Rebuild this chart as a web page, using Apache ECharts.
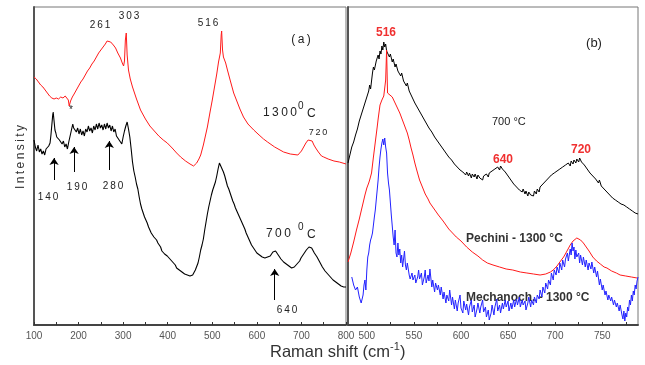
<!DOCTYPE html>
<html>
<head>
<meta charset="utf-8">
<script src="https://cdn.jsdelivr.net/npm/echarts@6/dist/echarts.min.js"></script>
<style>
html, body { margin: 0; padding: 0; background: #fff; }
#chart { width: 645px; height: 365px; }
</style>
</head>
<body>
<div id="chart"></div>
<script>
// panel (a): Raman shift (cm-1) vs intensity (arb. units)
var redA = [[100,248],[105,246],[110,243],[115,240],[120,238],[125,235],[130,232],[135,229],[140,227],[145,226],[150,227],[155,226],[160,228],[165,227],[170,229],[174,228],[177,225],[179,219],[182,224],[186,228],[190,231],[195,235],[200,239],[205,243],[210,246],[215,250],[220,254],[225,257],[230,261],[235,264],[240,268],[245,272],[250,275],[255,278],[260,281],[264,284],[268,282],[272,283],[278,280],[283,277],[288,272],[294,267],[298,262],[301,259],[303,264],[305,285],[307,292],[309,270],[312,255],[316,246],[321,238],[330,226],[339,215],[350,206],[360,199],[368,195],[380,189],[390,185],[399,182],[410,177],[420,172],[429,168],[440,164],[450,161],[458,159],[465,162],[470,166],[474,170],[480,180],[485,190],[489,198],[495,213],[500,225],[505,238],[510,251],[514,263],[518,272],[520,290],[521,294],[523,275],[525,268],[530,262],[534,255],[540,245],[548,232],[555,224],[562,216],[570,208],[580,201],[593,195],[605,190],[615,186],[624,183],[640,178],[660,173],[675,171],[692,170],[700,174],[705,178],[710,182],[715,185],[719,187],[724,184],[728,180],[732,177],[738,173],[745,169],[750,168],[760,166],[773,164],[785,163],[800,161]];

var blackA = [[100,185],[103,178],[106,174],[109,180],[112,173],[115,176],[118,171],[121,174],[124,170],[127,176],[130,174],[133,179],[136,182],[138,190],[140,200],[142,210],[143,213],[145,204],[147,195],[149,192],[151,188],[154,190],[157,185],[160,186],[163,181],[166,184],[169,178],[172,181],[175,176],[178,183],[181,189],[184,195],[187,201],[189,197],[192,199],[195,193],[198,197],[201,191],[204,196],[207,190],[210,194],[213,189],[216,196],[219,193],[222,199],[225,194],[228,197],[231,192],[234,199],[237,195],[240,201],[243,196],[246,202],[249,197],[252,200],[255,195],[258,201],[261,196],[264,202],[267,197],[270,200],[273,194],[276,199],[279,193],[282,196],[285,189],[288,191],[291,185],[294,184],[297,181],[300,188],[303,194],[306,199],[309,203],[312,196],[315,188],[318,176],[321,163],[324,154],[327,148],[330,141],[333,136],[336,128],[339,121],[342,116],[345,112],[348,108],[351,105],[354,102],[357,98],[360,96],[363,92],[366,90],[369,88],[372,86],[375,85],[378,82],[381,80],[384,78],[387,74],[390,73],[393,71],[396,72],[399,69],[402,68],[405,66],[408,64],[411,63],[414,61],[417,60],[420,57],[423,58],[426,55],[429,56],[432,53],[435,54],[438,51],[441,52],[444,50],[447,52],[450,49],[453,51],[456,50],[459,52],[462,55],[465,57],[468,62],[471,68],[474,75],[477,80],[480,86],[483,95],[486,103],[489,111],[492,118],[495,124],[498,130],[501,135],[504,139],[507,143],[510,149],[513,156],[516,162],[519,159],[522,157],[525,153],[528,149],[531,144],[534,139],[537,136],[540,132],[543,128],[546,124],[549,121],[552,117],[555,115],[558,111],[561,108],[564,105],[567,103],[570,99],[573,96],[576,92],[579,89],[582,86],[585,84],[588,80],[591,78],[594,76],[597,74],[600,72],[603,71],[606,70],[609,69],[612,68],[615,68],[618,67],[621,66],[624,68],[627,67],[630,69],[633,71],[636,73],[639,75],[642,74],[645,72],[648,70],[651,68],[654,66],[657,65],[660,63],[663,62],[666,61],[669,60],[672,59],[675,58],[678,57],[681,57],[684,58],[687,59],[690,61],[693,63],[696,64],[699,67],[702,68],[705,71],[708,73],[711,75],[714,77],[717,78],[720,79],[723,77],[726,75],[729,72],[732,70],[735,68],[738,66],[741,63],[744,61],[747,58],[750,56],[753,54],[756,52],[759,51],[762,49],[765,48],[768,47],[771,45],[774,44],[777,43],[780,42],[783,41],[786,40],[789,39],[792,39],[795,38],[800,38]];

// arrows in panel (a): [x, from, to]
var arrowsA = [[145,145,167],[190,153,178],[269,155,184],[640,25,56]];

// panel (b)
var blackB = [[480,162],[482,170],[484,178],[486,183],[488,190],[490,196],[492,204],[494,210],[496,216],[498,222],[500,228],[502,234],[503,240],[504,236],[506,252],[507,258],[508,255],[510,264],[511,262],[512,270],[513,266],[514,274],[515,271],[516,279],[517,275],[518,283],[519,278],[520,281],[521,274],[522,276],[524,268],[525,271],[527,263],[528,266],[530,258],[531,261],[533,254],[534,256],[536,249],[537,252],[539,244],[540,246],[542,239],[543,242],[545,234],[546,236],[548,228],[549,230],[551,222],[552,224],[554,217],[555,219],[557,212],[558,214],[560,207],[561,209],[563,202],[564,204],[566,197],[567,199],[569,193],[570,194],[572,188],[573,190],[575,184],[576,186],[578,180],[579,181],[581,176],[582,178],[584,172],[585,174],[587,168],[588,170],[590,165],[591,166],[593,161],[594,163],[596,158],[597,160],[599,155],[600,157],[602,153],[603,155],[605,150],[606,153],[608,149],[609,152],[611,147],[612,151],[614,148],[615,151],[617,146],[618,150],[620,147],[621,149],[623,145],[624,149],[626,147],[627,151],[629,148],[630,152],[632,150],[633,154],[635,152],[636,156],[638,154],[639,158],[641,155],[642,159],[644,156],[645,158],[647,153],[648,155],[650,149],[651,151],[653,145],[654,147],[656,141],[657,143],[659,138],[660,140],[662,135],[663,137],[665,133],[666,136],[668,131],[669,134],[671,129],[672,133],[674,130],[675,132],[677,129],[678,134],[680,131],[681,136],[683,133],[684,138],[686,136],[687,141],[689,139],[690,144],[692,142],[693,147],[695,145],[696,150],[698,148],[699,152],[701,150],[702,154],[704,152],[705,156],[707,154],[708,158],[710,156],[711,160],[713,158],[714,162],[716,159],[717,164],[719,161],[720,165],[722,162],[723,166],[725,163],[726,167],[728,163],[729,165],[731,160],[732,162],[734,156],[735,158],[737,152],[738,154],[740,149],[741,151],[743,146],[744,148],[746,142],[747,145],[749,139],[750,141],[752,136],[753,138],[755,133],[756,135],[758,130],[759,132],[761,127],[762,129],[764,125],[765,127],[767,123],[768,125],[770,121],[771,123],[773,120],[774,122],[776,118],[777,120],[779,116],[780,118],[782,114],[783,116],[785,112],[786,114],[788,111]];

var redB = [[480,63],[483,72],[486,83],[489,95],[492,106],[494,114],[496,122],[498,130],[500,137],[502,142],[503,145],[505,152],[507,168],[509,183],[511,198],[512,206],[513,213],[514,220],[516,225],[518,229],[519,230],[520,245],[521,275],[522,232],[524,230],[527,228],[529,224],[531,220],[533,216],[535,212],[537,207],[539,202],[541,197],[543,192],[545,185],[547,177],[549,170],[551,162],[553,155],[556,145],[559,138],[562,131],[565,126],[567,122],[570,118],[573,114],[576,110],[578,108],[581,104],[584,100],[587,96],[591,92],[595,88],[600,84],[606,78],[612,73],[618,69],[623,65],[628,62],[634,60],[641,58],[648,56],[655,55],[663,53],[670,52],[677,51],[684,50],[690,51],[695,53],[698,55],[702,59],[705,63],[709,68],[712,73],[716,80],[719,84],[721,86],[723,87],[725,86],[727,85],[730,82],[733,78],[736,74],[740,68],[744,64],[748,61],[752,58],[755,57],[760,54],[765,52],[769,50],[775,49],[781,48],[787,47]];

var blueB = [[484,48],[486,40],[488,35],[490,38],[492,28],[494,22],[496,30],[497,40],[498,45],[499,35],[500,55],[501,68],[502,72],[503,80],[504,85],[505,88],[506,92],[507,100],[508,108],[509,115],[510,125],[511,135],[512,145],[513,158],[514,168],[515,176],[516,182],[517,186],[518,180],[519,187],[520,178],[521,172],[522,152],[523,142],[524,135],[526,110],[528,88],[529,80],[530,95],[531,72],[532,68],[533,82],[534,70],[535,76],[536,62],[537,70],[538,58],[539,66],[540,74],[541,60],[542,55],[543,62],[545,50],[546,46],[548,52],[549,45],[551,50],[552,42],[554,48],[555,55],[556,46],[558,52],[559,40],[561,48],[562,55],[563,42],[565,50],[566,44],[567,56],[569,38],[570,45],[572,33],[573,42],[575,35],[576,40],[578,30],[579,38],[581,26],[582,33],[584,22],[585,30],[587,24],[588,35],[590,20],[591,28],[593,16],[594,25],[596,14],[597,22],[599,30],[600,17],[602,12],[603,24],[605,15],[606,21],[608,10],[609,18],[611,25],[612,13],[614,20],[615,8],[617,16],[618,22],[620,12],[621,18],[623,25],[624,13],[626,18],[627,8],[629,15],[630,5],[632,12],[633,20],[635,10],[636,18],[638,26],[639,14],[641,20],[642,12],[644,22],[645,16],[647,25],[648,18],[650,24],[651,14],[653,22],[654,16],[656,25],[657,18],[659,26],[660,20],[662,28],[663,18],[665,25],[666,20],[668,24],[669,15],[671,22],[672,28],[674,18],[675,25],[677,20],[678,28],[680,22],[681,30],[683,26],[684,35],[686,28],[687,38],[689,32],[690,42],[692,36],[693,45],[695,40],[696,52],[698,45],[699,55],[701,50],[702,58],[704,52],[705,62],[707,55],[708,65],[710,58],[711,66],[713,72],[714,64],[716,76],[717,70],[718,82],[719,74],[720,78],[721,66],[722,75],[723,68],[725,72],[726,62],[727,70],[729,60],[730,68],[732,58],[733,65],[735,55],[736,62],[738,56],[739,63],[741,52],[742,58],[744,48],[745,54],[747,40],[748,46],[750,35],[751,40],[753,30],[754,34],[756,25],[757,30],[759,24],[760,28],[762,20],[763,25],[765,18],[766,22],[768,14],[769,20],[771,10],[772,6],[773,14],[774,4],[775,12],[776,8],[777,18],[778,14],[779,25],[780,20],[781,30],[782,24],[783,34],[784,30],[785,40],[786,36],[787,44],[788,48]];

// tick positions
var ticksA = [100,150,200,250,300,350,400,450,500,550,600,650,700,750,800];
var labelsA = [100,200,300,400,500,600,700,800];
var ticksB = [500,525,550,575,600,625,650,675,700,725,750,775];
var labelsB = [500,550,600,650,700,750];

var FONT = '"Liberation Sans", Arial, sans-serif';

// letter-spaced text like the original figure
function sp(s) { return s.split('').join('\u2009'); }
function txt(x, y, s, size, color, weight, align) {
    return {
        type: 'text', x: x, y: y, silent: true,
        style: {
            text: s, fill: color || '#222',
            font: (weight || 'normal') + ' ' + size + 'px ' + FONT,
            align: align || 'center', verticalAlign: 'middle'
        }
    };
}

function xAxisCfg(idx, min, max, ticks, labels) {
    return {
        type: 'value', gridIndex: idx, min: min, max: max,
        axisLine: { show: true, onZero: false, lineStyle: { color: '#444', width: 2 } },
        axisTick: { show: true, inside: true, length: 3, customValues: ticks, lineStyle: { color: '#333' } },
        axisLabel: { customValues: labels, color: '#555', fontSize: 10, fontFamily: FONT, margin: 6 },
        splitLine: { show: false }
    };
}
function yAxisCfg(idx) {
    return {
        type: 'value', gridIndex: idx, min: 0, max: 318,
        axisLine: { show: true, onZero: false, lineStyle: { color: '#555', width: 2 } },
        axisTick: { show: false },
        axisLabel: { show: false },
        splitLine: { show: false }
    };
}

var arrowLines = arrowsA.map(function (a) {
    return [{ coord: [a[0], a[1]] }, { coord: [a[0], a[2]] }];
});

var option = {
    animation: false,
    backgroundColor: '#fff',
    grid: [
        { left: 34, top: 7, width: 312, height: 318, show: true, borderColor: '#777', borderWidth: 1 },
        { left: 348, top: 7, width: 290, height: 318, show: true, borderColor: '#777', borderWidth: 1 }
    ],
    xAxis: [
        xAxisCfg(0, 100, 800, ticksA, labelsA),
        xAxisCfg(1, 480, 788, ticksB, labelsB)
    ],
    yAxis: [yAxisCfg(0), yAxisCfg(1)],
    series: [
        {
            name: '1300 C', type: 'line', xAxisIndex: 0, yAxisIndex: 0,
            data: redA, showSymbol: false, silent: true,
            lineStyle: { color: '#ff1a1a', width: 1 }
        },
        {
            name: '700 C', type: 'line', xAxisIndex: 0, yAxisIndex: 0,
            data: blackA, showSymbol: false, silent: true,
            lineStyle: { color: '#000', width: 1.1 },
            markLine: {
                silent: true, symbol: ['none', 'arrow'], symbolSize: 7,
                label: { show: false },
                lineStyle: { color: '#000', width: 1, type: 'solid' },
                itemStyle: { color: '#000' },
                emphasis: { disabled: true },
                data: arrowLines
            }
        },
        {
            name: '700 C (b)', type: 'line', xAxisIndex: 1, yAxisIndex: 1,
            data: blackB, showSymbol: false, silent: true,
            lineStyle: { color: '#000', width: 1 }
        },
        {
            name: 'Pechini', type: 'line', xAxisIndex: 1, yAxisIndex: 1,
            data: redB, showSymbol: false, silent: true,
            lineStyle: { color: '#ff1a1a', width: 1 }
        },
        {
            name: 'Mechanoch', type: 'line', xAxisIndex: 1, yAxisIndex: 1,
            data: blueB, showSymbol: false, silent: true,
            lineStyle: { color: '#2222ff', width: 1 }
        }
    ],
    graphic: [
        // axis titles
        {
            type: 'text', x: 21, y: 157, rotation: Math.PI / 2, silent: true,
            style: { text: sp('Intensity'), fill: '#333', font: '12px ' + FONT, align: 'center', verticalAlign: 'middle' }
        },
        {
            type: 'text', x: 270, y: 351, silent: true,
            style: {
                text: '{a|Raman shift (cm}{b|-1}{a|)}',
                align: 'left', verticalAlign: 'middle',
                rich: {
                    a: { fontSize: 16.5, fontFamily: FONT, fill: '#333', lineHeight: 20, verticalAlign: 'bottom' },
                    b: { fontSize: 11, fontFamily: FONT, fill: '#333', lineHeight: 20, verticalAlign: 'top' }
                }
            }
        },
        // panel (a) labels
        txt(100, 25, sp('261'), 10),
        txt(129, 16, sp('303'), 10),
        txt(208, 23, sp('516'), 10),
        txt(71, 110, '*', 10),
        txt(301, 40, sp('(a)'), 12),
        txt(263, 113, sp('1300'), 12, '#222', 'normal', 'left'),
        txt(298, 106, '0', 10, '#222', 'normal', 'left'),
        txt(307, 114, 'C', 12, '#222', 'normal', 'left'),
        txt(318, 133, sp('720'), 9),
        txt(48, 197, sp('140'), 10),
        txt(77, 187, sp('190'), 10),
        txt(113, 186, sp('280'), 10),
        txt(266, 234, sp('700'), 12, '#222', 'normal', 'left'),
        txt(298, 227, '0', 10, '#222', 'normal', 'left'),
        txt(307, 235, 'C', 12, '#222', 'normal', 'left'),
        txt(287, 310, sp('640'), 10),
        // panel (b) labels
        txt(386, 33, '516', 12, '#f03030', 'bold'),
        txt(503, 160, '640', 12, '#f03030', 'bold'),
        txt(581, 150, '720', 12, '#f03030', 'bold'),
        txt(594, 43, '(b)', 13, '#222'),
        txt(492, 122, '700 \u00B0C', 11, '#222', 'normal', 'left'),
        txt(466, 239, 'Pechini - 1300 \u00B0C', 12, '#333', 'bold', 'left'),
        txt(466, 298, 'Mechanoch. - 1300 \u00B0C', 12, '#333', 'bold', 'left')
    ]
};

var chart = echarts.init(document.getElementById('chart'), null, { renderer: 'canvas' });
chart.setOption(option);
</script>
</body>
</html>
